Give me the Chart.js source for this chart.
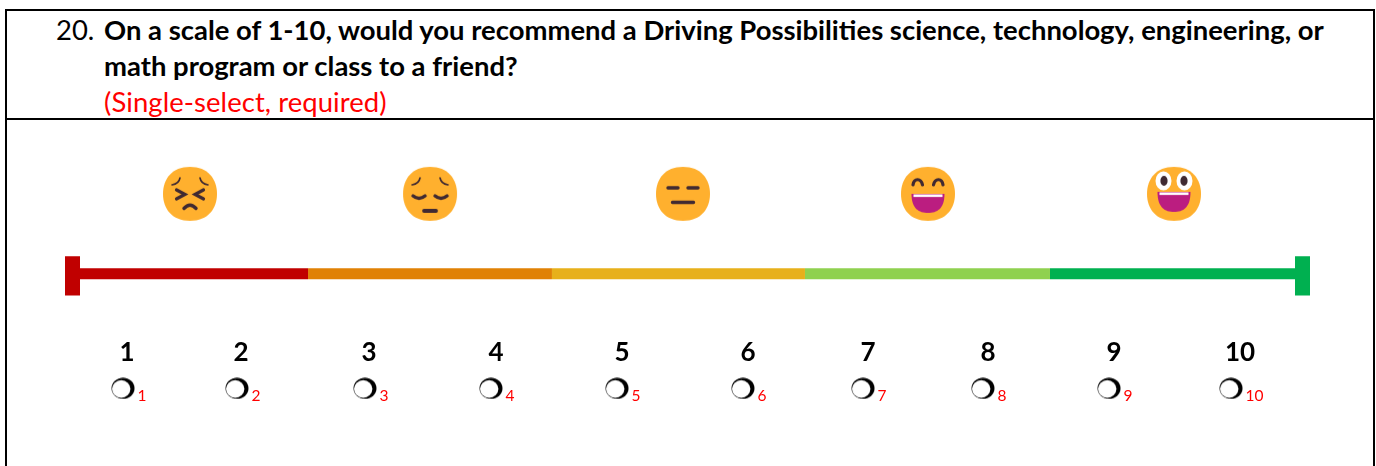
<!DOCTYPE html>
<html>
<head>
<meta charset="utf-8">
<title>Question 20</title>
<script src="https://cdn.jsdelivr.net/npm/chart.js@4"></script>
<style>
    html, body { margin: 0; padding: 0; background: #fff; }
    body { width: 1376px; height: 466px; overflow: hidden; position: relative; font-family: Lato, sans-serif; }
    #frame { position: absolute; left: 5px; top: 9px; width: 1366px; height: 480px; border: 2px solid #000; }
    #divider { position: absolute; left: 5px; top: 118px; width: 1370px; height: 2px; background: #000; }
    .line { position: absolute; white-space: nowrap; font-size: 27.45px; line-height: 30px; }
    .bold { font-weight: 700; color: #000; }
    #chartBox { position: absolute; left: 11px; top: 117px; width: 1353px; height: 349px; }
</style>
</head>
<body>
<div id="frame"></div>
<div id="divider"></div>
<div class="line" style="left:56px;top:15px;color:#000">20.</div>
<div class="line bold" style="left:104px;top:15px">On a scale of 1-10, would you recommend a Driving Possibilities science, technology, engineering, or</div>
<div class="line bold" style="left:104px;top:51px">math program or class to a friend?</div>
<div class="line" style="left:104px;top:87px;color:#f00;letter-spacing:0.08px">(Single-select, required)</div>
<div id="chartBox"><canvas id="scaleChart" width="1353" height="349"></canvas></div>
<script>
// Scale values, in score units
const scoreLabels = ['1', '2', '3', '4', '5', '6', '7', '8', '9', '10'];
const scorePositions = [0.943, 1.870, 2.911, 3.943, 4.967, 5.992, 6.967, 7.943, 8.967, 9.992];
const optionPositions = [0.911, 1.837, 2.878, 3.902, 4.927, 5.951, 6.927, 7.902, 8.927, 9.919];
const bandEdges = [0.5, 2.415, 4.398, 6.455, 8.447, 10.5];
const bandColors = ['#C00000', '#E08105', '#E7B01B', '#8FD14F', '#00B050'];
const facePositions = [1.455, 3.407, 5.463, 7.455, 9.455];

// Rows of the hidden y axis
const faceRow = 0.98;
const scaleRow = 2;
const capRange = [1.775, 2.275];
const axisRow = 2.705;
const optionRow = 3.46;

const FACE = '#FFB02E';
const INK = '#402A32';
const MOUTH = '#BB1D80';

function stroke(c, width, draw) {
    c.strokeStyle = INK;
    c.lineWidth = width;
    c.lineCap = 'round';
    c.beginPath();
    draw();
    c.stroke();
}

function brows(c) {
    stroke(c, 1.6, () => {
        c.moveTo(-18, -9); c.quadraticCurveTo(-11, -10, -10, -16);
        c.moveTo(18, -9); c.quadraticCurveTo(11, -10, 10, -16);
    });
}

function openMouth(c, top, bottom) {
    c.fillStyle = MOUTH;
    c.beginPath();
    c.moveTo(-16.5, top);
    c.lineTo(16.5, top);
    c.bezierCurveTo(16.5, bottom - 4, 9, bottom, 0, bottom);
    c.bezierCurveTo(-9, bottom, -16.5, bottom - 4, -16.5, top);
    c.fill();
    c.fillStyle = '#fff';
    c.fillRect(-14.5, top + 0.5, 29, 2.6);
}

const faceDrawers = [
    c => {
        brows(c);
        stroke(c, 3.2, () => {
            c.moveTo(-13.5, -4); c.lineTo(-5, 0.5); c.lineTo(-13.5, 5);
            c.moveTo(13.5, -4); c.lineTo(5, 0.5); c.lineTo(13.5, 5);
        });
        stroke(c, 3.4, () => { c.moveTo(-6, 14.5); c.quadraticCurveTo(0, 8, 6, 14.5); });
    },
    c => {
        brows(c);
        stroke(c, 3.4, () => {
            c.moveTo(-17, 2); c.quadraticCurveTo(-11, 7, -5, 2);
            c.moveTo(17, 2); c.quadraticCurveTo(11, 7, 5, 2);
        });
        stroke(c, 3.8, () => { c.moveTo(-6, 17); c.lineTo(6, 17); });
    },
    c => {
        stroke(c, 3.4, () => {
            c.moveTo(-15, -6); c.lineTo(-5, -6);
            c.moveTo(5, -6); c.lineTo(15, -6);
            c.moveTo(-10.5, 8.5); c.lineTo(10.5, 8.5);
        });
    },
    c => {
        stroke(c, 3.2, () => {
            c.moveTo(-15, -9); c.bezierCurveTo(-14, -16, -7, -16, -5.5, -9);
            c.moveTo(5.5, -9); c.bezierCurveTo(7, -16, 14, -16, 15, -9);
        });
        openMouth(c, 0, 19);
    },
    c => {
        c.fillStyle = '#fff';
        c.beginPath();
        c.ellipse(-10.5, -13, 8, 9.5, 0, 0, Math.PI * 2);
        c.ellipse(10.5, -13, 8, 9.5, 0, 0, Math.PI * 2);
        c.fill();
        c.fillStyle = INK;
        c.beginPath();
        c.ellipse(-10, -13, 3.6, 5, 0, 0, Math.PI * 2);
        c.ellipse(10, -13, 3.6, 5, 0, 0, Math.PI * 2);
        c.fill();
        openMouth(c, -2, 18);
    }
];

// Face outline of the emoji, on a 32 unit box
const faceOutline = 'M15.9989 29.9978C25.3333 29.9978 29.9978 23.7303 29.9978 15.9989C29.9978 8.26751 25.3333 2 15.9989 2C6.66443 2 2 8.26751 2 15.9989C2 23.7303 6.66443 29.9978 15.9989 29.9978Z';

function makeFace(draw) {
    const canvas = document.createElement('canvas');
    canvas.width = 56;
    canvas.height = 56;
    const c = canvas.getContext('2d');
    c.save();
    c.translate(1, 1);
    c.scale(54 / 28, 54 / 28);
    c.translate(-2, -2);
    c.fillStyle = FACE;
    c.fill(new Path2D(faceOutline));
    c.restore();
    c.translate(28, 28);
    draw(c);
    return canvas;
}

function makeRadio() {
    const canvas = document.createElement('canvas');
    canvas.width = 24;
    canvas.height = 22;
    const c = canvas.getContext('2d');
    c.fillStyle = '#000';
    c.beginPath();
    c.ellipse(12, 11, 11.5, 10.5, 0, 0, Math.PI * 2);
    c.fill();
    c.fillStyle = '#fff';
    c.beginPath();
    c.ellipse(10.2, 11.6, 9.2, 8.8, 0, 0, Math.PI * 2);
    c.fill();
    return canvas;
}

const faceImages = faceDrawers.map(makeFace);
const radioImage = makeRadio();

// One line per colour band, then the two end caps
const bandDatasets = bandColors.map((color, i) => ({
    data: [{ x: bandEdges[i], y: scaleRow }, { x: bandEdges[i + 1], y: scaleRow }],
    showLine: true,
    borderColor: color,
    borderWidth: 11,
    pointRadius: 0
}));

const capDatasets = [0, bandEdges.length - 1].map((edge, i) => ({
    data: capRange.map(y => ({ x: bandEdges[edge], y: y })),
    showLine: true,
    borderColor: i === 0 ? bandColors[0] : bandColors[bandColors.length - 1],
    borderWidth: 15,
    pointRadius: 0
}));

const faceDataset = {
    data: facePositions.map(x => ({ x: x, y: faceRow })),
    pointStyle: ctx => faceImages[ctx.dataIndex],
    pointRadius: 27
};

const optionDataset = {
    data: optionPositions.map(x => ({ x: x, y: optionRow })),
    pointStyle: radioImage,
    pointRadius: 12
};

// Small red numbers to the right of the radio marks
const optionNumbers = {
    id: 'optionNumbers',
    afterDatasetsDraw(chart) {
        const c = chart.ctx;
        c.save();
        c.fillStyle = '#f00';
        c.font = '15.5px Lato';
        c.textBaseline = 'alphabetic';
        scoreLabels.forEach((label, i) => {
            const x = chart.scales.x.getPixelForValue(optionPositions[i]);
            const y = chart.scales.y.getPixelForValue(optionRow);
            c.fillText(label, x + 14.5, y + 12.5);
        });
        c.restore();
    }
};

new Chart(document.getElementById('scaleChart'), {
    type: 'scatter',
    data: { datasets: bandDatasets.concat(capDatasets, [faceDataset, optionDataset]) },
    plugins: [optionNumbers],
    options: {
        responsive: false,
        animation: false,
        events: [],
        layout: { padding: 0, autoPadding: false },
        plugins: { legend: { display: false }, tooltip: { enabled: false } },
        scales: {
            x: {
                type: 'linear',
                axis: 'x',
                position: { y: axisRow },
                min: 0,
                max: 11,
                border: { display: false },
                grid: { display: false },
                afterBuildTicks: scale => {
                    scale.ticks = scorePositions.map(v => ({ value: v }));
                },
                ticks: {
                    autoSkip: false,
                    maxRotation: 0,
                    padding: 0,
                    color: '#000',
                    font: { family: 'Lato', size: 26, weight: '700' },
                    callback: (value, index) => scoreLabels[index]
                }
            },
            y: {
                type: 'linear',
                display: false,
                reverse: true,
                min: 0,
                max: 4.45
            }
        }
    }
});
</script>
</body>
</html>
